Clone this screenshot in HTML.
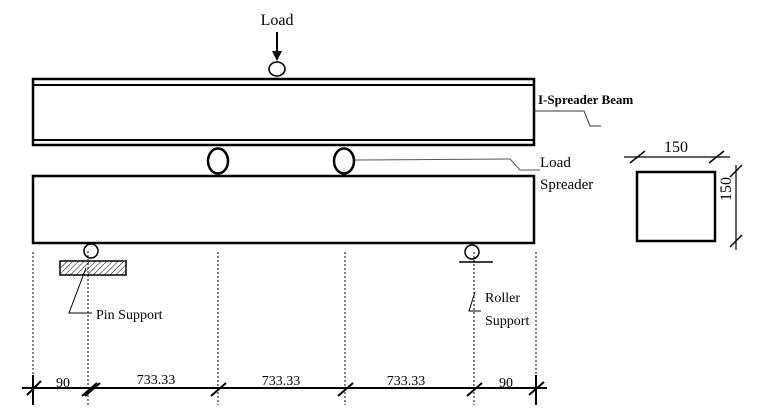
<!DOCTYPE html>
<html><head><style>body{margin:0;background:#fff}svg{display:block}text{font-family:"Liberation Serif",serif;fill:#000}</style></head><body>
<svg width="764" height="413" viewBox="0 0 764 413" xmlns="http://www.w3.org/2000/svg">
<defs><pattern id="h" width="4" height="4" patternUnits="userSpaceOnUse" patternTransform="rotate(45)"><line x1="0" y1="0" x2="0" y2="4" stroke="#000" stroke-width="1"/></pattern></defs>
<text x="277" y="25" font-size="16" text-anchor="middle">Load</text>
<line x1="277" y1="32" x2="277" y2="52" stroke="#000" stroke-width="2"/>
<polygon points="272,51 282,51 277,61" fill="#000"/>
<ellipse cx="277" cy="69" rx="8" ry="7" fill="#fff" stroke="#000" stroke-width="1.6"/>
<g stroke="#000" fill="none">
<rect x="33" y="79" width="501" height="66" stroke-width="2.5"/>
<line x1="33" y1="85" x2="534" y2="85" stroke-width="2"/>
<line x1="33" y1="140" x2="534" y2="140" stroke-width="2"/>
<ellipse cx="218" cy="161" rx="10" ry="12.5" stroke-width="2.5"/>
<ellipse cx="344" cy="161" rx="10" ry="12.5" stroke-width="2.5"/>
<rect x="33" y="176" width="501" height="67" stroke-width="2.5"/>
<polyline points="354,160 510,159 520,170 540,170" stroke="#555" stroke-width="1"/>
<polyline points="534,111 584,111 590,126 601,126" stroke="#333" stroke-width="1"/>
<rect x="637" y="172" width="78" height="69" stroke-width="2.5"/>
<line x1="624" y1="157" x2="730" y2="157" stroke-width="1.2"/>
<line x1="630" y1="163" x2="645" y2="151" stroke-width="1.5"/>
<line x1="709" y1="163" x2="724" y2="151" stroke-width="1.5"/>
<line x1="736" y1="165" x2="736" y2="250" stroke-width="1.2"/>
<line x1="730" y1="177" x2="742" y2="165" stroke-width="1.5"/>
<line x1="730" y1="247" x2="742" y2="235" stroke-width="1.5"/>
<circle cx="91" cy="251" r="7" stroke-width="1.5"/>
<rect x="60" y="261" width="66" height="14" fill="url(#h)" stroke-width="1.5"/>
<polyline points="86,268 69,313 92,313" stroke-width="1"/>
<circle cx="472" cy="252" r="7" stroke-width="1.5"/>
<line x1="459" y1="262" x2="493" y2="262" stroke-width="1.5"/>
<polyline points="475,292 469,311 481,311" stroke-width="1"/>
<g stroke-dasharray="2,2" stroke-width="1">
<line x1="33" y1="252" x2="33" y2="405"/>
<line x1="88" y1="251" x2="88" y2="405"/>
<line x1="218" y1="252" x2="218" y2="405"/>
<line x1="345" y1="252" x2="345" y2="405"/>
<line x1="474" y1="252" x2="474" y2="405"/>
<line x1="536" y1="252" x2="536" y2="405"/>
</g>
<line x1="22" y1="388" x2="547" y2="388" stroke-width="2"/>
<g stroke-width="2">
<line x1="33" y1="375" x2="33" y2="405"/><line x1="27" y1="395" x2="41" y2="381"/>
<line x1="82" y1="396" x2="97" y2="383"/><line x1="85" y1="396" x2="100" y2="383"/>
<line x1="211" y1="396" x2="226" y2="383"/>
<line x1="338" y1="396" x2="353" y2="383"/>
<line x1="467" y1="396" x2="482" y2="383"/>
<line x1="536" y1="375" x2="536" y2="405"/><line x1="529" y1="395" x2="544" y2="382"/>
</g>
</g>
<text x="538" y="104" font-size="13" font-weight="bold">I-Spreader Beam</text>
<text x="540" y="167" font-size="15">Load</text>
<text x="540" y="189" font-size="15">Spreader</text>
<text x="676" y="152" font-size="16" text-anchor="middle">150</text>
<text transform="translate(731,189) rotate(-90)" font-size="16" text-anchor="middle">150</text>
<text x="96" y="319" font-size="14">Pin Support</text>
<text x="485" y="302" font-size="14">Roller</text>
<text x="485" y="325" font-size="14">Support</text>
<text x="63" y="387" font-size="14" text-anchor="middle">90</text>
<text x="156" y="384" font-size="14" text-anchor="middle">733.33</text>
<text x="281" y="385" font-size="14" text-anchor="middle">733.33</text>
<text x="406" y="385" font-size="14" text-anchor="middle">733.33</text>
<text x="506" y="387" font-size="14" text-anchor="middle">90</text>
</svg>
</body></html>
